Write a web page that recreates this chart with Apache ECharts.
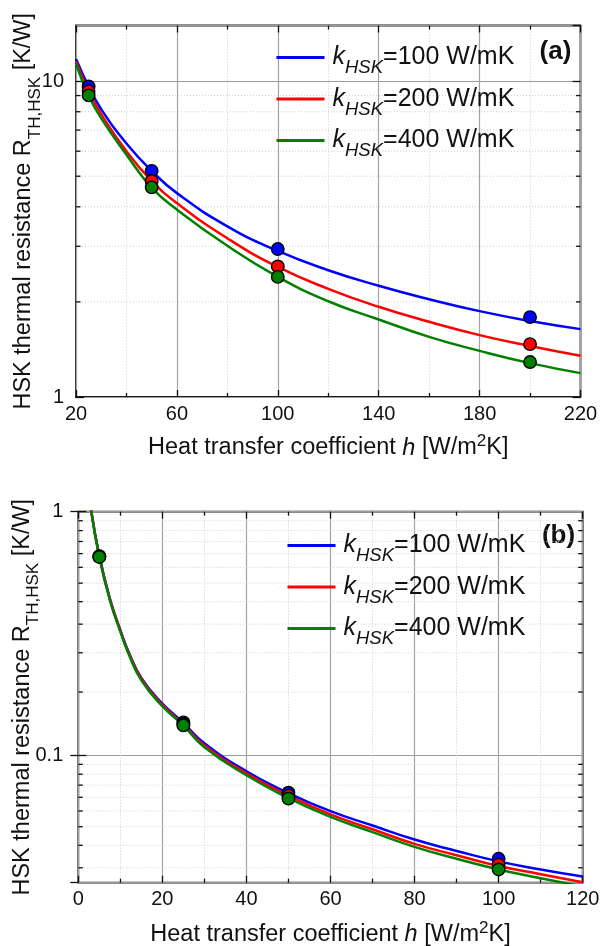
<!DOCTYPE html>
<html>
<head>
<meta charset="utf-8">
<script src="https://cdn.jsdelivr.net/npm/echarts@6/dist/echarts.min.js"></script>
<style>
  html, body { margin: 0; padding: 0; background: #fff; }
  #chart { width: 600px; height: 946px; }
</style>
</head>
<body>
<div id="chart"></div>
<script>
// ---- Panel (a): HSK thermal resistance vs. h, 20..220 W/m2K ----
const hA = [20, 25, 30, 40, 50, 60, 80, 100, 120, 140, 160, 180, 200, 220];
const curveA100 = [11.75, 9.62, 8.15, 6.35, 5.2, 4.42, 3.47, 2.9, 2.52, 2.25, 2.04, 1.87, 1.74, 1.64];
const curveA200 = [11.55, 9.3, 7.86, 6.0, 4.83, 4.11, 3.18, 2.58, 2.2, 1.93, 1.73, 1.57, 1.45, 1.35];
const curveA400 = [11.35, 9.0, 7.62, 5.85, 4.6, 3.92, 3.01, 2.4, 2.01, 1.76, 1.55, 1.40, 1.28, 1.19];
const hPtsA = [25, 50, 100, 200];
const ptsA100 = [9.62, 5.2, 2.94, 1.79];
const ptsA200 = [9.29, 4.83, 2.59, 1.47];
const ptsA400 = [9.01, 4.61, 2.40, 1.29];

// ---- Panel (b): HSK thermal resistance vs. h, 0..120 W/m2K ----
const hB = [3, 5, 7.5, 10, 12, 15, 20, 25, 30, 40, 50, 60, 70, 80, 90, 100, 110, 120];
const curveB100 = [1.03, 0.66, 0.441, 0.327, 0.265, 0.208, 0.163, 0.136, 0.112, 0.086, 0.070, 0.059, 0.0515, 0.0451, 0.0405, 0.0367, 0.034, 0.0318];
const curveB200 = [1.03, 0.655, 0.438, 0.325, 0.263, 0.206, 0.161, 0.134, 0.110, 0.0843, 0.0683, 0.0572, 0.0497, 0.0433, 0.0389, 0.0351, 0.0325, 0.0301];
const curveB400 = [1.02, 0.652, 0.434, 0.322, 0.26, 0.203, 0.159, 0.1325, 0.108, 0.0828, 0.0667, 0.0559, 0.0484, 0.0421, 0.0376, 0.0340, 0.0313, 0.029];
const hPtsB = [5, 25, 50, 100];
const ptsB100 = [0.657, 0.1365, 0.0702, 0.0376];
const ptsB200 = [0.655, 0.1345, 0.0683, 0.0356];
const ptsB400 = [0.652, 0.1327, 0.0665, 0.0340];

// Series names / legend entries (k_HSK values)
const kValues = ['100', '200', '400'];
const seriesColors = ['#0000ff', '#ff0000', '#008000'];

// Minor grid values on the log y axes
const minorYA = [2, 3, 4, 5, 6, 7, 8, 9];
const minorYB = [];
[0.01, 0.1].forEach(function (dec) {
  for (let k = 1; k <= 10; k++) {
    const v = +(dec + k * dec * 9 / 11).toFixed(6);
    if (v > 0.03 && v < 1) minorYB.push(v);
  }
});

const FONT = '"Liberation Sans", Arial, Helvetica, sans-serif';
const INK = '#111';

function pairs(xs, ys) { return xs.map(function (x, i) { return [x, ys[i]]; }); }

const xTitleRich = {
  m: { fontSize: 23.5, lineHeight: 30, color: INK, fontFamily: FONT },
  i: { fontSize: 23.5, lineHeight: 30, color: INK, fontFamily: FONT, fontStyle: 'italic' },
  sup: { fontSize: 17, lineHeight: 20, color: INK, fontFamily: FONT, verticalAlign: 'top' }
};
const xTitle = '{m|Heat transfer coefficient }{i|h}{m| [W/m}{sup|2}{m|K]}';

const yTitleRich = {
  m: { fontSize: 23.5, lineHeight: 40, color: INK, fontFamily: FONT },
  s: { fontSize: 17, lineHeight: 14, color: INK, fontFamily: FONT, verticalAlign: 'bottom' }
};
const yTitle = '{m|HSK thermal resistance R}{s|TH,HSK}{m| [K/W]}';

function xAxes(gridIndex, min, max, interval, nameGap) {
  const tickStyle = { color: INK, width: 1.3 };
  const bottom = {
    type: 'value', gridIndex: gridIndex, position: 'bottom',
    min: min, max: max, interval: interval,
    axisLine: { show: false },
    axisTick: { show: true, inside: true, length: 7, lineStyle: tickStyle },
    minorTick: { show: true, splitNumber: 2, length: 4, lineStyle: tickStyle },
    splitLine: { show: true, lineStyle: { color: '#a3a3a3', width: 1.2 } },
    minorSplitLine: { show: true, lineStyle: { color: '#cdcdcd', width: 1, type: [1, 2] } },
    axisLabel: { fontSize: 20, color: INK, margin: 7, fontFamily: FONT },
    name: xTitle, nameLocation: 'middle', nameGap: nameGap, nameMoveOverlap: false,
    nameTextStyle: { rich: xTitleRich }
  };
  const top = {
    type: 'value', gridIndex: gridIndex, position: 'top',
    min: min, max: max, interval: interval,
    axisLine: { show: false },
    axisTick: { show: true, inside: true, length: 7, lineStyle: tickStyle },
    minorTick: { show: true, splitNumber: 2, length: 4, lineStyle: tickStyle },
    splitLine: { show: false },
    axisLabel: { show: false }
  };
  return [bottom, top];
}

function yAxes(gridIndex, min, max, labelMargin, nameGap, hideMin, hideMax) {
  const tickStyle = { color: INK, width: 1.3 };
  const left = {
    type: 'log', logBase: 10, gridIndex: gridIndex, position: 'left',
    min: min, max: max,
    axisLine: { show: false },
    axisTick: { show: true, inside: true, length: 8, lineStyle: tickStyle },
    splitLine: { show: true, lineStyle: { color: '#9a9a9a', width: 1.2 } },
    axisLabel: {
      fontSize: 20, color: INK, margin: labelMargin, fontFamily: FONT,
      showMinLabel: !hideMin, showMaxLabel: !hideMax
    },
    name: yTitle, nameLocation: 'middle', nameGap: nameGap, nameRotate: 90,
    nameMoveOverlap: false,
    nameTextStyle: { rich: yTitleRich }
  };
  const right = {
    type: 'log', logBase: 10, gridIndex: gridIndex, position: 'right',
    min: min, max: max,
    axisLine: { show: false },
    axisTick: { show: true, inside: true, length: 8, lineStyle: tickStyle },
    splitLine: { show: false },
    axisLabel: { show: false }
  };
  return [left, right];
}

// Dotted minor gridlines plus short inward ticks on both y edges
function minorGrid(axisIdx, values, xMin, xMax) {
  return {
    type: 'custom', xAxisIndex: axisIdx, yAxisIndex: axisIdx,
    coordinateSystem: 'cartesian2d', silent: true, z: 1, clip: false,
    data: values.map(function (v) { return [xMin, v]; }),
    encode: { x: 0, y: 1 },
    renderItem: function (params, api) {
      const v = api.value(1);
      const p0 = api.coord([xMin, v]);
      const p1 = api.coord([xMax, v]);
      return {
        type: 'group',
        children: [
          { type: 'line', shape: { x1: p0[0], y1: p0[1], x2: p1[0], y2: p1[1] },
            style: { stroke: '#cdcdcd', lineWidth: 1, lineDash: [1, 2] } },
          { type: 'line', shape: { x1: p0[0], y1: p0[1], x2: p0[0] + 4.5, y2: p0[1] },
            style: { stroke: INK, lineWidth: 1.3 } },
          { type: 'line', shape: { x1: p1[0] - 4.5, y1: p1[1], x2: p1[0], y2: p1[1] },
            style: { stroke: INK, lineWidth: 1.3 } }
        ]
      };
    }
  };
}

function seriesName(i) { return 'k_HSK=' + kValues[i] + ' W/mK'; }

function curveSeries(axisIdx, xs, ys, i) {
  return {
    type: 'line', name: seriesName(i), xAxisIndex: axisIdx, yAxisIndex: axisIdx,
    data: pairs(xs, ys), symbol: 'none', showSymbol: false, smooth: 0.5,
    lineStyle: { color: seriesColors[i], width: 2.5 },
    itemStyle: { color: seriesColors[i] },
    z: 3, silent: true
  };
}
function pointSeries(axisIdx, xs, ys, i) {
  return {
    type: 'scatter', name: 'pts ' + kValues[i], xAxisIndex: axisIdx, yAxisIndex: axisIdx,
    data: pairs(xs, ys), symbol: 'circle', symbolSize: 12.5,
    itemStyle: { color: seriesColors[i], borderColor: '#000', borderWidth: 1.4, opacity: 1 },
    z: 4, silent: true
  };
}

const legendRich = {
  k: { fontSize: 25, lineHeight: 40, color: INK, fontFamily: FONT, fontStyle: 'italic', padding: [0, 0, 0, 3] },
  s: { fontSize: 18.5, lineHeight: 14, color: INK, fontFamily: FONT, fontStyle: 'italic', verticalAlign: 'bottom' },
  n: { fontSize: 25, lineHeight: 40, color: INK, fontFamily: FONT }
};
function legendFormatter(name) {
  return '{k|k}{s|HSK}{n|=' + name.split('=')[1] + '}';
}
function legendAt(left, top) {
  return {
    orient: 'vertical', left: left, top: top, padding: 0, itemGap: 9,
    itemWidth: 48, itemHeight: 14, selectedMode: false,
    itemStyle: { color: 'rgba(0,0,0,0)', borderColor: 'rgba(0,0,0,0)', borderWidth: 0 },
    lineStyle: { width: 3 },
    data: kValues.map(function (v, i) { return seriesName(i); }),
    formatter: legendFormatter,
    textStyle: { rich: legendRich }
  };
}

const xa = xAxes(0, 20, 220, 40, 36);
const xb = xAxes(1, 0, 120, 20, 37);
const ya = yAxes(0, 1, 15, 12, 32, false, true);
const yb = yAxes(1, 0.03, 1, 15, 36, true, false);

const option = {
  animation: false,
  backgroundColor: '#fff',
  grid: [
    { left: 76, top: 25.5, width: 504.5, height: 371.5, show: true,
      containLabel: false, outerBoundsMode: 'none',
      borderColor: '#1a1a1a', borderWidth: 1.8, backgroundColor: 'transparent' },
    { left: 78.3, top: 511.7, width: 504.4, height: 371, show: true,
      containLabel: false, outerBoundsMode: 'none',
      borderColor: '#1a1a1a', borderWidth: 1.8, backgroundColor: 'transparent' }
  ],
  xAxis: [xa[0], xa[1], xb[0], xb[1]],
  yAxis: [ya[0], ya[1], yb[0], yb[1]],
  legend: [legendAt(275, 45), legendAt(286, 533)],
  graphic: [
    { type: 'text', x: 555.5, y: 51.5,
      style: { text: '(a)', fontSize: 26, fontWeight: 'bold', fontFamily: FONT, fill: INK,
               align: 'center', verticalAlign: 'middle', textAlign: 'center', textVerticalAlign: 'middle' } },
    { type: 'text', x: 558.5, y: 536,
      style: { text: '(b)', fontSize: 26, fontWeight: 'bold', fontFamily: FONT, fill: INK,
               align: 'center', verticalAlign: 'middle', textAlign: 'center', textVerticalAlign: 'middle' } }
  ],
  series: [
    minorGrid(0, minorYA, 20, 220),
    curveSeries(0, hA, curveA100, 0),
    curveSeries(0, hA, curveA200, 1),
    curveSeries(0, hA, curveA400, 2),
    pointSeries(0, hPtsA, ptsA100, 0),
    pointSeries(0, hPtsA, ptsA200, 1),
    pointSeries(0, hPtsA, ptsA400, 2),
    minorGrid(2, minorYB, 0, 120),
    curveSeries(2, hB, curveB100, 0),
    curveSeries(2, hB, curveB200, 1),
    curveSeries(2, hB, curveB400, 2),
    pointSeries(2, hPtsB, ptsB100, 0),
    pointSeries(2, hPtsB, ptsB200, 1),
    pointSeries(2, hPtsB, ptsB400, 2)
  ]
};

const chart = echarts.init(document.getElementById('chart'), null, { renderer: 'canvas' });
chart.setOption(option);
</script>
</body>
</html>
